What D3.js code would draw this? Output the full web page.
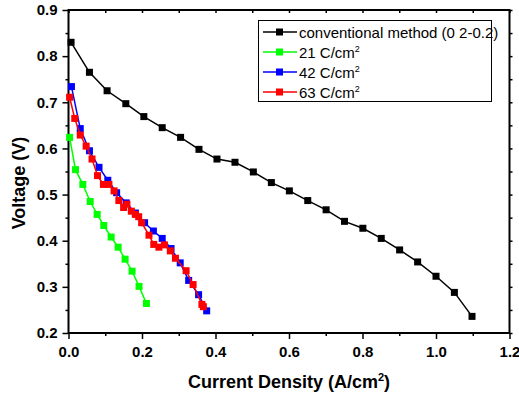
<!DOCTYPE html>
<html>
<head>
<meta charset="utf-8">
<script src="https://cdn.jsdelivr.net/npm/d3@7"></script>
<style>
	body { margin: 0; background: #fff; }
	svg text { font-family: Arial, "Liberation Sans", sans-serif; }
</style>
</head>
<body>
<div id="chart"></div>
<script>
// conventional method (0 2-0.2)
const convX = [0.007, 0.057, 0.105, 0.156, 0.205, 0.255, 0.305, 0.355, 0.404, 0.453, 0.503, 0.552,
	0.601, 0.651, 0.701, 0.751, 0.801, 0.851, 0.901, 0.950, 1.000, 1.050, 1.098];
const convV = [0.830, 0.765, 0.725, 0.697, 0.669, 0.645, 0.624, 0.598, 0.577, 0.570, 0.549, 0.526,
	0.508, 0.487, 0.467, 0.442, 0.427, 0.405, 0.380, 0.354, 0.323, 0.288, 0.236];

// 21 C/cm2
const c21X = [0.003, 0.019, 0.039, 0.059, 0.078, 0.096, 0.116, 0.135, 0.154, 0.173, 0.192, 0.212];
const c21V = [0.624, 0.554, 0.522, 0.485, 0.457, 0.433, 0.408, 0.386, 0.360, 0.334, 0.301, 0.264];

// 42 C/cm2
const c42X = [0.008, 0.032, 0.057, 0.083, 0.107, 0.131, 0.157, 0.182, 0.207, 0.231, 0.255, 0.279,
	0.304, 0.327, 0.354, 0.376];
const c42V = [0.734, 0.643, 0.595, 0.559, 0.531, 0.504, 0.482, 0.460, 0.439, 0.421, 0.405, 0.383,
	0.352, 0.314, 0.283, 0.248];

// 63 C/cm2
const c63X = [0.003, 0.017, 0.032, 0.048, 0.064, 0.079, 0.095, 0.110, 0.124, 0.137, 0.150, 0.159,
	0.171, 0.182, 0.191, 0.199, 0.219, 0.232, 0.246, 0.261, 0.277, 0.291, 0.320, 0.339, 0.363, 0.367];
const c63V = [0.711, 0.665, 0.629, 0.605, 0.577, 0.541, 0.522, 0.522, 0.508, 0.487, 0.472, 0.479,
	0.464, 0.457, 0.452, 0.439, 0.412, 0.392, 0.386, 0.391, 0.378, 0.362, 0.335, 0.305, 0.262, 0.257];

const seriesNames = ["conventional method (0 2-0.2)", "21 C/cm", "42 C/cm", "63 C/cm"];
const seriesColors = ["#000000", "#00ff00", "#0000ff", "#ff0000"];

const xTicks = [0, 0.2, 0.4, 0.6, 0.8, 1.0, 1.2];
const xMinor = [0.1, 0.3, 0.5, 0.7, 0.9, 1.1];
const yTicks = [0.2, 0.3, 0.4, 0.5, 0.6, 0.7, 0.8, 0.9];
const yMinor = [0.25, 0.35, 0.45, 0.55, 0.65, 0.75, 0.85];

const W = 519, H = 398;
const plot = {left: 68.5, right: 509.5, top: 10, bottom: 333};

const svg = d3.select("#chart").append("svg")
	.attr("width", W)
	.attr("height", H);

const x = d3.scaleLinear().domain([0, 1.2]).range([plot.left, plot.right]);
const y = d3.scaleLinear().domain([0.2, 0.9]).range([plot.bottom, plot.top]);

// bottom axis
const gx = svg.append("g").attr("transform", "translate(0," + plot.bottom + ")");
gx.call(d3.axisBottom(x).tickValues(xTicks).tickFormat(d3.format(".1f"))
	.tickSizeInner(6).tickSizeOuter(0).tickPadding(7));
gx.append("g").call(d3.axisBottom(x).tickValues(xMinor).tickFormat("").tickSizeInner(3).tickSizeOuter(0));

// left axis
const gy = svg.append("g").attr("transform", "translate(" + plot.left + ",0)");
gy.call(d3.axisLeft(y).tickValues(yTicks).tickFormat(d3.format(".1f"))
	.tickSizeInner(6).tickSizeOuter(0).tickPadding(5));
gy.append("g").call(d3.axisLeft(y).tickValues(yMinor).tickFormat("").tickSizeInner(3).tickSizeOuter(0));

// top axis, ticks inward
const gt = svg.append("g").attr("transform", "translate(0," + plot.top + ")");
gt.call(d3.axisBottom(x).tickValues(xTicks.concat(xMinor)).tickFormat("").tickSizeInner(3).tickSizeOuter(0));

// right axis, ticks outward
const gr = svg.append("g").attr("transform", "translate(" + plot.right + ",0)");
gr.call(d3.axisRight(y).tickValues(yTicks.concat(yMinor)).tickFormat("").tickSizeInner(3).tickSizeOuter(0));

svg.selectAll(".domain").remove();
svg.selectAll(".tick line").attr("stroke", "#000").attr("stroke-width", 1.5);
svg.selectAll(".tick text")
	.attr("fill", "#000")
	.style("font-size", "15px")
	.style("font-weight", "bold");

// frame
svg.append("rect")
	.attr("x", plot.left)
	.attr("y", plot.top)
	.attr("width", plot.right - plot.left)
	.attr("height", plot.bottom - plot.top)
	.attr("fill", "none")
	.attr("stroke", "#000")
	.attr("stroke-width", 2);

// series
const allSeries = [[convX, convV], [c21X, c21V], [c42X, c42V], [c63X, c63V]];
const line = d3.line().x(d => x(d[0])).y(d => y(d[1]));
const ms = 7;

allSeries.forEach(function(s, i) {
	const pts = s[0].map((v, k) => [v, s[1][k]]);
	svg.append("path")
		.datum(pts)
		.attr("d", line)
		.attr("fill", "none")
		.attr("stroke", seriesColors[i])
		.attr("stroke-width", 1.5);
	svg.append("g").selectAll("rect")
		.data(pts)
		.enter().append("rect")
		.attr("x", d => x(d[0]) - ms / 2)
		.attr("y", d => y(d[1]) - ms / 2)
		.attr("width", ms)
		.attr("height", ms)
		.attr("fill", seriesColors[i]);
});

// legend
const lg = svg.append("g");
lg.append("rect")
	.attr("x", 258.5).attr("y", 20.5)
	.attr("width", 233).attr("height", 81)
	.attr("fill", "#fff")
	.attr("stroke", "#000")
	.attr("stroke-width", 1);

seriesNames.forEach(function(name, i) {
	const ly = 32 + i * 20;
	lg.append("line")
		.attr("x1", 263).attr("x2", 297)
		.attr("y1", ly).attr("y2", ly)
		.attr("stroke", seriesColors[i])
		.attr("stroke-width", 1.5);
	lg.append("rect")
		.attr("x", 276).attr("y", ly - 3.5)
		.attr("width", ms).attr("height", ms)
		.attr("fill", seriesColors[i]);
	const t = lg.append("text")
		.attr("x", 299)
		.attr("y", ly + 5.5)
		.style("font-size", "15px")
		.attr("fill", "#000")
		.text(name);
	if (i > 0) {
		t.append("tspan")
			.attr("dy", -6)
			.style("font-size", "9px")
			.text("2");
	}
});

// axis titles
const xt = svg.append("text")
	.attr("x", 289)
	.attr("y", 388)
	.attr("text-anchor", "middle")
	.style("font-size", "18px")
	.style("font-weight", "bold")
	.text("Current Density (A/cm");
xt.append("tspan").attr("dy", -7).style("font-size", "11px").text("2");
xt.append("tspan").attr("dy", 7).text(")");

svg.append("text")
	.attr("transform", "translate(25,183) rotate(-90)")
	.attr("text-anchor", "middle")
	.style("font-size", "18px")
	.style("font-weight", "bold")
	.text("Voltage (V)");
</script>
</body>
</html>
